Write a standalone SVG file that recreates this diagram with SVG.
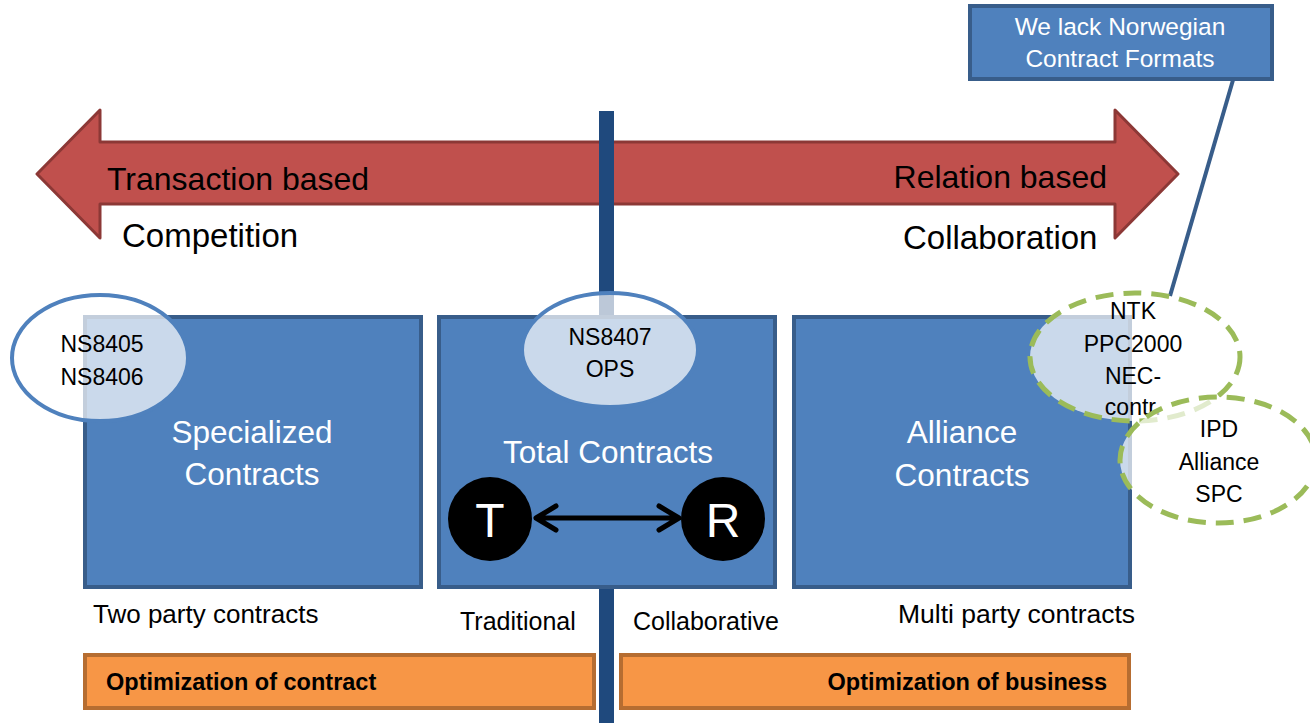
<svg xmlns="http://www.w3.org/2000/svg" width="1310" height="723" viewBox="0 0 1310 723">
  <defs>
    <style>
      text { font-family: "Liberation Sans", Arial, sans-serif; }
      .box { fill: #4f81bd; stroke: #385d8a; stroke-width: 4; }
      .boxText { fill: #ffffff; font-size: 31.5px; text-anchor: middle; }
      .ell { fill: #ffffff; fill-opacity: 0.7; stroke: #4f81bd; stroke-width: 4; }
      .dash { fill: #ffffff; fill-opacity: 0.7; stroke: #9bbb59; stroke-width: 5; stroke-dasharray: 18 10; }
      .small { fill: #000000; font-size: 23px; text-anchor: middle; }
      .lbl { fill: #000000; font-size: 25px; }
      .big { fill: #000000; font-size: 32px; }
      .orange { fill: #f79646; stroke: #b66d31; stroke-width: 4; }
      .bold { fill: #000000; font-size: 23.5px; font-weight: bold; }
      .circ { fill: #000000; }
      .letter { fill: #ffffff; font-size: 48px; text-anchor: middle; }
      .link { fill: none; stroke: #000000; stroke-width: 5; stroke-linecap: round; stroke-linejoin: round; }
    </style>
  </defs>

  <rect width="1310" height="723" fill="#ffffff"/>

  <g id="scale-arrow">
    <polygon points="37,174 100,110 100,142 1115,142 1115,110 1178,174 1115,238 1115,204 100,204 100,238" fill="#c0504d" stroke="#8c3836" stroke-width="3" stroke-linejoin="round"/>
    <text class="big" x="107" y="190" font-size="31.5">Transaction based</text>
    <text class="big" x="1107" y="188" text-anchor="end">Relation based</text>
  </g>

  <g id="divider">
    <rect x="599" y="111" width="15" height="612" fill="#1f497d"/>
  </g>

  <text id="competition" class="big" x="122" y="247" style="font-size:33px">Competition</text>
  <text id="collaboration" class="big" x="903" y="249" style="font-size:33px">Collaboration</text>

  <g id="specialized">
    <rect class="box" x="85" y="317" width="336" height="270"/>
    <text class="boxText" x="252" y="443">Specialized</text>
    <text class="boxText" x="252" y="485">Contracts</text>
  </g>

  <g id="total">
    <rect class="box" x="439" y="317" width="336" height="270"/>
    <text class="boxText" x="608" y="463">Total Contracts</text>
  </g>

  <g id="alliance">
    <rect class="box" x="794" y="317" width="336" height="270"/>
    <text class="boxText" x="962" y="443">Alliance</text>
    <text class="boxText" x="962" y="486">Contracts</text>
  </g>

  <g id="node-T">
    <circle class="circ" cx="490" cy="519" r="42"/>
    <text class="letter" x="490" y="537">T</text>
  </g>
  <g id="node-R">
    <circle class="circ" cx="723" cy="519" r="42"/>
    <text class="letter" x="723" y="537">R</text>
  </g>

  <g id="connectors">
    <line x1="1233" y1="80" x2="1170" y2="296" stroke="#385d8a" stroke-width="4"/>
    <path class="link" d="M536,518 L679,518 M556,506 L536,518 L556,530 M659,506 L679,518 L659,530"/>
  </g>

  <g id="ns8405">
    <ellipse class="ell" cx="100" cy="358" rx="88" ry="63"/>
    <text class="small" x="102" y="352">NS8405</text>
    <text class="small" x="102" y="385">NS8406</text>
  </g>

  <g id="ns8407">
    <ellipse class="ell" cx="610" cy="350" rx="88" ry="57"/>
    <text class="small" x="610" y="345">NS8407</text>
    <text class="small" x="610" y="377">OPS</text>
  </g>

  <g id="ntk">
    <ellipse class="dash" cx="1135" cy="357" rx="105" ry="64"/>
    <text class="small" x="1133" y="319">NTK</text>
    <text class="small" x="1133" y="352">PPC2000</text>
    <text class="small" x="1133" y="384">NEC-</text>
    <text class="small" x="1133" y="415">contr.</text>
  </g>

  <g id="ipd">
    <ellipse class="dash" cx="1218" cy="460" rx="98" ry="63"/>
    <text class="small" x="1219" y="437">IPD</text>
    <text class="small" x="1219" y="470">Alliance</text>
    <text class="small" x="1219" y="502">SPC</text>
  </g>

  <g id="callout">
    <rect class="box" x="970" y="6" width="302" height="73"/>
    <text x="1120" y="35" fill="#ffffff" font-size="24.5" text-anchor="middle">We lack Norwegian</text>
    <text x="1120" y="67" fill="#ffffff" font-size="24.5" text-anchor="middle">Contract Formats</text>
  </g>

  <text id="two-party" class="lbl" x="93" y="623" style="font-size:26px">Two party contracts</text>
  <text id="traditional" class="lbl" x="460" y="630">Traditional</text>
  <text id="collaborative" class="lbl" x="633" y="630">Collaborative</text>
  <text id="multi-party" class="lbl" x="898" y="623" style="font-size:26.5px">Multi party contracts</text>

  <g id="opt-contract">
    <rect class="orange" x="85" y="655" width="509" height="53"/>
    <text class="bold" x="106" y="690">Optimization of contract</text>
  </g>
  <g id="opt-business">
    <rect class="orange" x="621" y="655" width="508" height="53"/>
    <text class="bold" x="1107" y="690" text-anchor="end">Optimization of business</text>
  </g>
</svg>
